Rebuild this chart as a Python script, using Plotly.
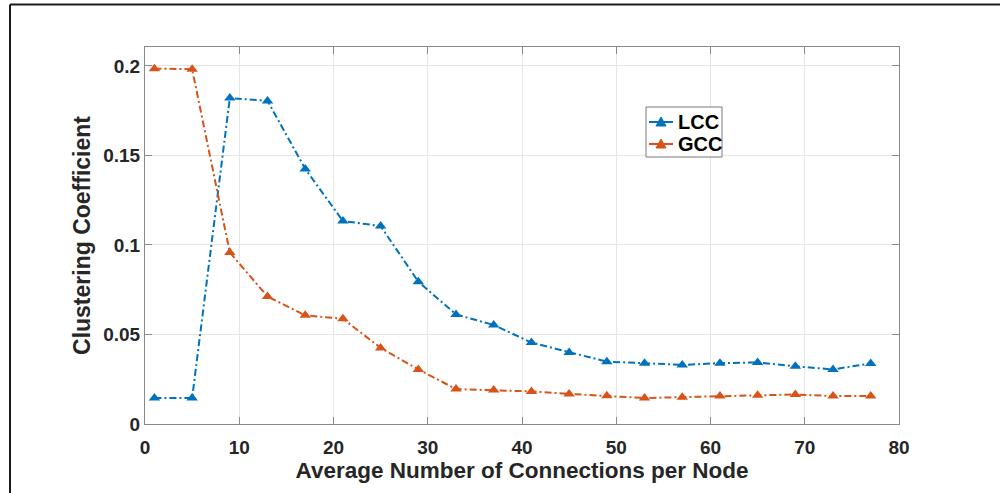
import plotly.graph_objects as go

# Average number of connections per node
connections = [1, 5, 9, 13, 17, 21, 25, 29, 33, 37, 41, 45, 49, 53, 57, 61, 65, 69, 73, 77]

# Local clustering coefficient
lcc = [0.0145, 0.0145, 0.1821, 0.1805, 0.1425, 0.1134, 0.1106, 0.0795, 0.0612, 0.0553,
       0.0455, 0.0400, 0.0348, 0.0340, 0.0330, 0.0340, 0.0344, 0.0322, 0.0305, 0.0338]

# Global clustering coefficient
gcc = [0.1985, 0.1982, 0.0958, 0.0712, 0.0607, 0.0588, 0.0425, 0.0305, 0.0195, 0.0190,
       0.0182, 0.0168, 0.0158, 0.0145, 0.0150, 0.0156, 0.0160, 0.0165, 0.0156, 0.0156]

x_ticks = [0, 10, 20, 30, 40, 50, 60, 70, 80]
y_ticks = [0, 0.05, 0.1, 0.15, 0.2]
y_tick_labels = ["0", "0.05", "0.1", "0.15", "0.2"]

series = [("LCC", lcc, "#0072BD"), ("GCC", gcc, "#D95319")]

FONT = "Liberation Sans, Arial, sans-serif"
TEXT = "#262626"
AXIS = "#8a8a8a"
DASH = "7px,3px,2px,3px"

# Plot area in pixels: left, right, top, bottom
PL, PR, PT, PB = 145, 899, 47, 424
W, H = 1000, 493


def px(xp):
    return (xp - PL) / (PR - PL)


def py(yp):
    return (PB - yp) / (PB - PT)


fig = go.Figure()
for name, values, color in series:
    fig.add_trace(go.Scatter(
        x=connections, y=values, name=name, mode="lines+markers",
        line=dict(color=color, width=2, dash=DASH),
        marker=dict(symbol="triangle-up", size=10, color=color),
        showlegend=False,
    ))

axis_common = dict(
    showline=True, linecolor=AXIS, linewidth=1, mirror="ticks",
    ticks="inside", ticklen=7, tickwidth=1, tickcolor=AXIS,
    showgrid=True, gridcolor="#e6e6e6", gridwidth=1, zeroline=False,
    tickfont=dict(family=FONT, size=19, color=TEXT),
)

fig.update_xaxes(
    range=[0, 80], tickvals=x_ticks, ticktext=[f"<b>{t}</b>" for t in x_ticks],
    ticklabelstandoff=6,
    title=dict(text="<b>Average Number of Connections per Node</b>",
               font=dict(family=FONT, size=22.5, color=TEXT), standoff=2),
    **axis_common,
)
fig.update_yaxes(
    range=[0, 0.2106], tickvals=y_ticks, ticktext=[f"<b>{t}</b>" for t in y_tick_labels],
    ticklabelstandoff=0,
    title=dict(text="<b>Clustering Coefficient</b>",
               font=dict(family=FONT, size=23, color=TEXT), standoff=6),
    **axis_common,
)

shapes = []

# Outer figure frame (left and top edges)
frame = dict(color="#1a1a1a", width=2)
shapes.append(dict(type="line", xref="paper", yref="paper",
                   x0=px(10), x1=px(10), y0=py(4.5), y1=py(H + 5), line=frame))
shapes.append(dict(type="line", xref="paper", yref="paper",
                   x0=px(10), x1=px(W + 5), y0=py(4.5), y1=py(4.5), line=frame))

# Legend box with line/marker samples and labels
shapes.append(dict(type="rect", xref="paper", yref="paper",
                   x0=px(646), y0=py(157), x1=px(722), y1=py(107),
                   line=dict(color="#7a7a7a", width=1), fillcolor="#ffffff",
                   layer="above"))
annotations = []
for i, (name, _, color) in enumerate(series):
    row = 122 + 22 * i
    shapes.append(dict(type="line", xref="paper", yref="paper",
                       x0=px(649), x1=px(673), y0=py(row), y1=py(row),
                       line=dict(color=color, width=2), layer="above"))
    cx = 661
    tri = (f"M {px(cx - 5)} {py(row + 4)} L {px(cx + 5)} {py(row + 4)} "
           f"L {px(cx)} {py(row - 5)} Z")
    shapes.append(dict(type="path", xref="paper", yref="paper", path=tri,
                       fillcolor=color, line=dict(color=color, width=1),
                       layer="above"))
    annotations.append(dict(xref="paper", yref="paper", x=px(676), y=py(row),
                            xanchor="left", yanchor="middle", showarrow=False,
                            text=f"<b>{name}</b>",
                            font=dict(family=FONT, size=20, color="black")))

fig.update_layout(
    width=W, height=H,
    margin=dict(l=PL, r=W - PR, t=PT, b=H - PB),
    paper_bgcolor="white", plot_bgcolor="white",
    showlegend=False,
    shapes=shapes,
    annotations=annotations,
)

fig.write_html("out.html")
